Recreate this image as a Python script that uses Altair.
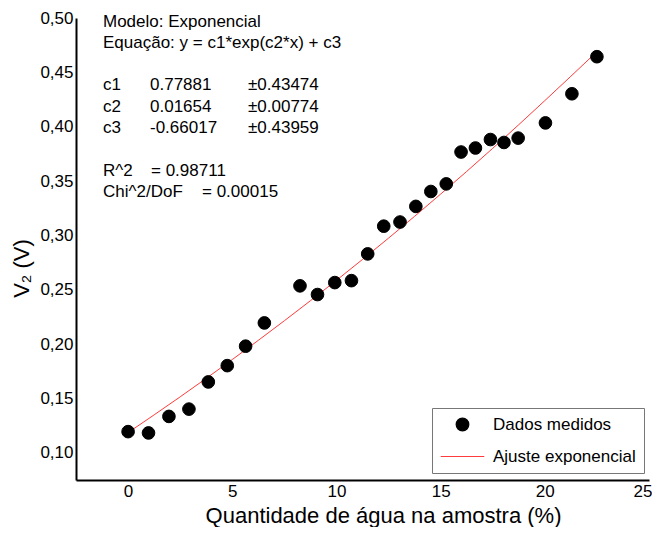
import altair as alt
import pandas as pd

x_meas = [0, 0.98, 1.96, 2.92, 3.85, 4.76, 5.64, 6.54, 8.25, 9.09, 9.92, 10.72, 11.5,
          12.27, 13.05, 13.81, 14.53, 15.27, 15.98, 16.67, 17.39, 18.04, 18.72, 20.03,
          21.3, 22.5]
v_meas = [0.1195, 0.1183, 0.1335, 0.1402, 0.1652, 0.1802, 0.1981, 0.2195, 0.2536, 0.2456,
          0.2566, 0.2584, 0.2830, 0.3085, 0.3123, 0.3267, 0.3404, 0.3474, 0.3767, 0.3804,
          0.3882, 0.3855, 0.3895, 0.4035, 0.4303, 0.4644]

# Fitted curve
x_fit = [0, 2.5, 5, 7.5, 10, 12.5, 15, 17.5, 20, 22.5]
v_fit = [0.1186, 0.1515, 0.1858, 0.2215, 0.2587, 0.2975, 0.3380, 0.3801, 0.4240, 0.4690]

series = ["Dados medidos", "Ajuste exponencial"]
x_ticks = [0, 5, 10, 15, 20, 25]
y_ticks = [0.10, 0.15, 0.20, 0.25, 0.30, 0.35, 0.40, 0.45, 0.50]

# Annotation text block
ann_text = ["Modelo: Exponencial", "Equação: y = c1*exp(c2*x) + c3",
            "c1", "c2", "c3", "R^2", "Chi^2/DoF",
            "0.77881", "0.01654", "-0.66017", "= 0.98711",
            "±0.43474", "±0.00774", "±0.43959", "= 0.00015"]
ann_col = [103, 103, 103, 103, 103, 103, 103, 150, 150, 150, 151, 248, 248, 248, 202]
ann_row = [0, 1, 3, 4, 5, 7, 8, 3, 4, 5, 7, 3, 4, 5, 8]

FONT = "Liberation Sans"

meas = pd.DataFrame({"x": x_meas, "v": v_meas, "serie": series[0]})
fit = pd.DataFrame({"x": x_fit, "v": v_fit, "serie": series[1]})
ann = pd.DataFrame({"t": ann_text, "px": [c - 76 for c in ann_col],
                    "py": [21.5 + 21.3 * r - 18 for r in ann_row]})

xs = alt.Scale(domain=[-2.5, 25], nice=False, zero=False)
ys = alt.Scale(domain=[0.075, 0.5], nice=False, zero=False)

xaxis = alt.Axis(values=x_ticks, title="Quantidade de água na amostra (%)",
                 labelPadding=3, labelFlush=True, labelFlushOffset=3,
                 titleX=307, titleY=35, titleBaseline="middle",
                 titleAlign="center", titleFontSize=22)
yaxis = alt.Axis(values=y_ticks, title="V₂ (V)",
                 labelExpr="replace(format(datum.value, '.2f'), '.', ',')",
                 labelPadding=3, labelFlush=False,
                 titleX=-55, titleY=250, titleAlign="center",
                 titleBaseline="middle", titleAngle=-90, titleFontSize=22)

leg = alt.Legend(title=None, orient="none", legendX=356, legendY=390,
                 strokeColor="#777777", fillColor="white", padding=8,
                 labelFontSize=17, labelFont=FONT, labelColor="black",
                 labelOffset=8, rowPadding=-16, symbolStrokeWidth=1.2)

fill_sc = alt.Scale(domain=series, range=["black", "#ff3b3b"])
shape_sc = alt.Scale(domain=series, range=["circle", "stroke"])
size_sc = alt.Scale(domain=series, range=[160, 1900])

points = alt.Chart(meas).mark_point(filled=True, opacity=1, strokeWidth=1).encode(
    x=alt.X("x:Q", scale=xs, axis=xaxis),
    y=alt.Y("v:Q", scale=ys, axis=yaxis),
    fill=alt.Fill("serie:N", scale=fill_sc, legend=leg),
    stroke=alt.Stroke("serie:N", scale=fill_sc, legend=leg),
    shape=alt.Shape("serie:N", scale=shape_sc, legend=leg),
    size=alt.Size("serie:N", scale=size_sc, legend=leg),
)

line = alt.Chart(fit).mark_line(strokeWidth=1, interpolate="monotone").encode(
    x=alt.X("x:Q", scale=xs),
    y=alt.Y("v:Q", scale=ys),
    stroke=alt.Stroke("serie:N", scale=fill_sc, legend=leg),
)

text = alt.Chart(ann).mark_text(align="left", baseline="middle", fontSize=17,
                                font=FONT, color="black").encode(
    x=alt.X("px:Q", scale=None),
    y=alt.Y("py:Q", scale=None),
    text="t:N",
)

chart = alt.layer(line, points, text).properties(
    width=573, height=462,
    autosize=alt.AutoSizeParams(type="none"),
    padding={"left": 68, "top": 10, "right": 3, "bottom": 47},
).configure_view(stroke=None).configure_axis(
    grid=False, ticks=False, domainColor="black", domainWidth=2,
    labelFont=FONT, labelFontSize=17, labelColor="black",
    titleFont=FONT, titleFontSize=20, titleColor="black", titleFontWeight="normal",
)

chart.save("out.html", embed_options={"renderer": "svg", "actions": False})
